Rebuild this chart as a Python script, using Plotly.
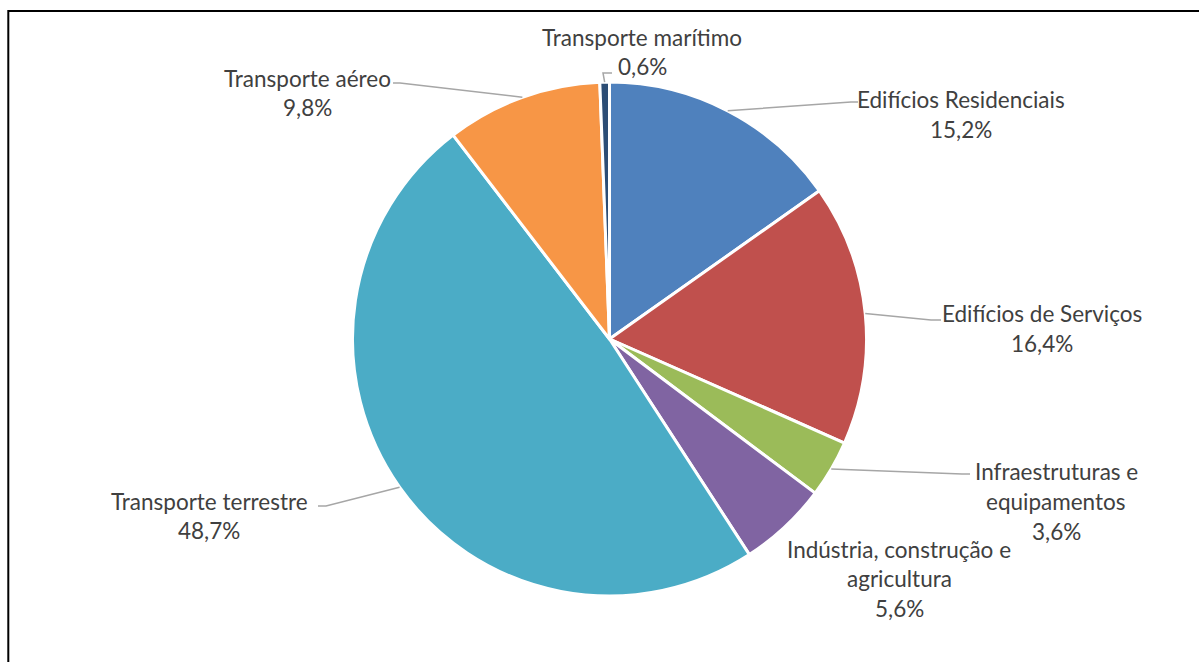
import math
import plotly.graph_objects as go

# ---- data ----
categories = [
    "Edifícios Residenciais",
    "Edifícios de Serviços",
    "Infraestruturas e equipamentos",
    "Indústria, construção e agricultura",
    "Transporte terrestre",
    "Transporte aéreo",
    "Transporte marítimo",
]
values = [15.2, 16.4, 3.6, 5.6, 48.7, 9.8, 0.6]
label_lines = [
    ["Edifícios Residenciais"],
    ["Edifícios de Serviços"],
    ["Infraestruturas e", "equipamentos"],
    ["Indústria, construção e", "agricultura"],
    ["Transporte terrestre"],
    ["Transporte aéreo"],
    ["Transporte marítimo"],
]

# ---- style ----
colors = ["#4F81BD", "#C0504D", "#9BBB59", "#8064A2", "#4BACC6", "#F79646", "#2C4D75"]
W, H = 1199, 662
CX, CY, R = 609.5, 339, 257
FONT = "Lato"
FSIZE = 22.5
LINE_H = 29.5
TEXT_COLOR = "#404040"
LEADER_COLOR = "#A6A6A6"
# label block: (center x, first-line center y) in px
label_pos = [
    (961, 100),
    (1042, 314),
    (1056, 472),
    (899, 549),
    (209, 501),
    (307, 78),
    (642, 37),
]
# leader line elbow / end points in px (None = no leader)
leader_pts = [
    [(851, 102), (858, 102)],
    [(931, 320), (941, 320)],
    [(962, 474), (970, 474)],
    None,
    [(326, 506), (318, 506)],
    [(400, 83), (393, 83)],
    [(603, 73), (612, 73)],
]


def px(x):
    return x / W


def py(y):
    return 1 - y / H


fig = go.Figure()
fig.add_trace(go.Pie(
    labels=categories,
    values=values,
    sort=False,
    direction="clockwise",
    rotation=0,
    textinfo="none",
    hoverinfo="label+percent",
    marker=dict(colors=colors, line=dict(color="white", width=3)),
    domain=dict(x=[px(CX - R), px(CX + R)], y=[py(CY + R), py(CY - R)]),
    showlegend=False,
))

total = sum(values)
cum = 0.0
annotations = []
shapes = []
for i, v in enumerate(values):
    mid = (cum + v / 2) / total * 2 * math.pi
    cum += v
    ex = CX + R * math.sin(mid)
    ey = CY - R * math.cos(mid)
    lines = label_lines[i] + [f"{v:.1f}%".replace(".", ",")]
    lx, ly = label_pos[i]
    for j, t in enumerate(lines):
        annotations.append(dict(
            x=px(lx), y=py(ly + j * LINE_H), xref="paper", yref="paper",
            text=t, showarrow=False, xanchor="center", yanchor="middle",
            font=dict(family=FONT, size=FSIZE, color=TEXT_COLOR),
        ))
    if leader_pts[i]:
        pts = [(ex, ey)] + leader_pts[i]
        path = "M " + " L ".join(f"{px(a)},{py(b)}" for a, b in pts)
        shapes.append(dict(type="path", path=path, xref="paper", yref="paper",
                           line=dict(color=LEADER_COLOR, width=1.5)))

# chart frame (left & top edges visible)
shapes.append(dict(type="rect", xref="paper", yref="paper",
                   x0=px(8.3), x1=1.02, y0=-0.02, y1=py(11),
                   line=dict(color="black", width=2)))

fig.update_layout(
    width=W, height=H,
    margin=dict(l=0, r=0, t=0, b=0),
    paper_bgcolor="white", plot_bgcolor="white",
    annotations=annotations, shapes=shapes,
)
fig.write_html(
    "out.html",
    config={"displayModeBar": False},
    post_script="document.body.style.margin='0';document.body.style.overflow='hidden';",
)
